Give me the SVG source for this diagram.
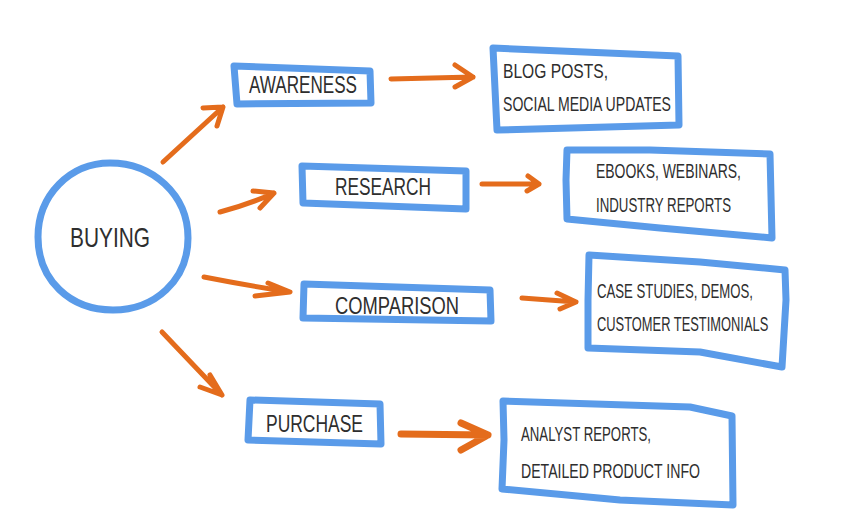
<svg xmlns="http://www.w3.org/2000/svg" width="850" height="511" viewBox="0 0 850 511">
<style>
.box{fill:none;stroke:#5a9be9;stroke-width:7;stroke-linejoin:round;stroke-linecap:round}
.arr{fill:none;stroke:#e46c1c;stroke-width:5;stroke-linecap:round;stroke-linejoin:round}
.t{font-family:"Liberation Sans",Arial,sans-serif;fill:#2e2e2e}
</style>
<rect width="850" height="511" fill="#fff"/>
<g id="connectors">
<path class="arr" d="M163,162 L223,107 M203,108 L223,107 L217,126"/>
<path class="arr" d="M220,212 Q250,204 274,193 M253,191 L274,193 L260,208"/>
<path class="arr" d="M204,277 Q250,286 290,292 M268,283 L290,292 L255,296"/>
<path class="arr" d="M162,332 L222,395 M210,375 L222,395 L200,387"/>
<path class="arr" d="M391,79 L473,77 M455,65 L473,77 L455,87"/>
<path class="arr" d="M482,184 L539,184 M528,176 L539,184 L527,191"/>
<path class="arr" d="M522,298 L576,302 M557,293 L576,302 L560,309"/>
<path class="arr" style="stroke-width:7" d="M401,434 L488,435 M461,423 L488,435 L461,450"/>
</g>
<g id="buying">
<path class="box" d="M110,163 C152,163 188,194 188,238 C188,280 155,310 113,310 C70,310 38,280 38,237 C38,195 70,163 110,163 Z"/>
<text class="t" x="110" y="247" font-size="28" text-anchor="middle" textLength="80" lengthAdjust="spacingAndGlyphs">BUYING</text>
</g>
<g id="awareness">
<path class="box" d="M234,66 L370,71 L371,103 L237,104 Z"/>
<text class="t" x="249" y="93" font-size="24" textLength="108" lengthAdjust="spacingAndGlyphs">AWARENESS</text>
</g>
<g id="research">
<path class="box" d="M302,166 L466,171 L466,209 L303,203 Z"/>
<text class="t" x="335" y="195" font-size="24" textLength="96" lengthAdjust="spacingAndGlyphs">RESEARCH</text>
</g>
<g id="comparison">
<path class="box" d="M304,284 L490,290 L491,321 L303,318 Z"/>
<text class="t" x="335" y="314" font-size="24" textLength="124" lengthAdjust="spacingAndGlyphs">COMPARISON</text>
</g>
<g id="purchase">
<path class="box" d="M250,400 L380,404 L381,444 L248,440 Z"/>
<text class="t" x="266" y="432" font-size="24" textLength="97" lengthAdjust="spacingAndGlyphs">PURCHASE</text>
</g>
<g id="blog">
<path class="box" d="M493,48 L678,56 L679,125 L497,130 Z"/>
<text class="t" x="503" y="78" font-size="21" textLength="105" lengthAdjust="spacingAndGlyphs">BLOG POSTS,</text>
<text class="t" x="503" y="111" font-size="21" textLength="168" lengthAdjust="spacingAndGlyphs">SOCIAL MEDIA UPDATES</text>
</g>
<g id="ebooks">
<path class="box" d="M567,150 L650,150 L770,154 L772,238 L660,228 L567,219 L566,180 Z"/>
<text class="t" x="596" y="178" font-size="21" textLength="145" lengthAdjust="spacingAndGlyphs">EBOOKS, WEBINARS,</text>
<text class="t" x="596" y="212" font-size="21" textLength="135" lengthAdjust="spacingAndGlyphs">INDUSTRY REPORTS</text>
</g>
<g id="casestudies">
<path class="box" d="M589,255 L700,262 L785,270 L786,300 L782,367 L700,352 L588,348 L588,300 Z"/>
<text class="t" x="597" y="298" font-size="21" textLength="156" lengthAdjust="spacingAndGlyphs">CASE STUDIES, DEMOS,</text>
<text class="t" font-size="21" transform="translate(597,331) scale(0.614,1)">CUSTOMER TESTIMONIALS</text>
</g>
<g id="analyst">
<path class="box" d="M503,401 L690,407 L732,416 L733,505 L620,500 L502,489 L504,440 Z"/>
<text class="t" x="521" y="441" font-size="21" textLength="130" lengthAdjust="spacingAndGlyphs">ANALYST REPORTS,</text>
<text class="t" x="521" y="478" font-size="21" textLength="179" lengthAdjust="spacingAndGlyphs">DETAILED PRODUCT INFO</text>
</g>
</svg>
